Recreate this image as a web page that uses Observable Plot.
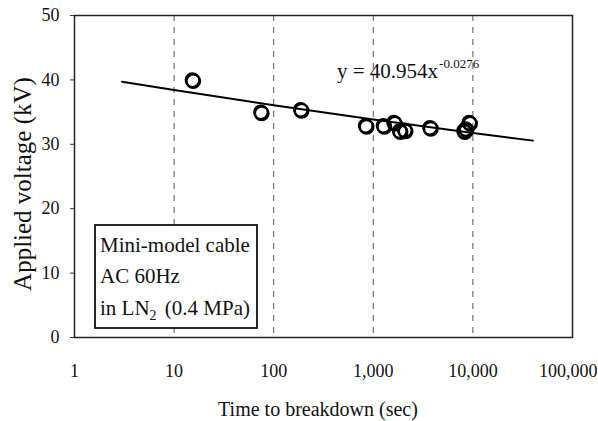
<!DOCTYPE html>
<html>
<head>
<meta charset="utf-8">
<script src="https://cdn.jsdelivr.net/npm/d3@7"></script>
<script src="https://cdn.jsdelivr.net/npm/@observablehq/plot@0.6"></script>
<style>
  html, body { margin: 0; padding: 0; background: #fff; overflow: hidden; }
  #chart { width: 598px; height: 421px; position: relative; }
  svg { font-family: "Liberation Serif", "Times New Roman", serif; }
</style>
</head>
<body>
<div id="chart"></div>
<script>
// Measured breakdown data
const times = [15.2, 74, 186, 835, 1260, 1607, 1830, 2060, 3690, 8100, 8430, 9140];
const voltages = [40.0, 35.0, 35.4, 32.9, 32.9, 33.4, 32.1, 32.2, 32.6, 32.1, 32.4, 33.4];

// Trend line (y = 40.954x^-0.0276) read at a few points
const fitTimes = [3, 10, 100, 1000, 10000, 40000];
const fitVoltages = [39.73, 38.43, 36.07, 33.84, 31.76, 30.57];

// Axes
const xTicks = [1, 10, 100, 1000, 10000, 100000];
const xTickLabels = ["1", "10", "100", "1,000", "10,000", "100,000"];
const xGrid = [10, 100, 1000, 10000];
const yTicks = [0, 10, 20, 30, 40, 50];

const xTitle = "Time to breakdown (sec)";
const yTitle = "Applied voltage (kV)";
const equationMain = "y = 40.954x";
const equationExp = "-0.0276";
const legendLines = ["Mini-model cable", "AC 60Hz"];

const points = times.map((t, i) => ({t, v: voltages[i]}));
const fit = fitTimes.map((t, i) => ({t, v: fitVoltages[i]}));

const W = 598, H = 421;
const mL = 74, mR = 26, mT = 15, mB = 84;

const plot = Plot.plot({
  width: W,
  height: H,
  marginLeft: mL,
  marginRight: mR,
  marginTop: mT,
  marginBottom: mB,
  style: {fontFamily: "Liberation Serif, serif", fontSize: "18px", color: "#111", background: "#fff", overflow: "visible"},
  x: {type: "log", domain: [1, 100000]},
  y: {domain: [0, 50]},
  marks: [
    Plot.ruleX(xGrid, {stroke: "#555", strokeWidth: 1, strokeDasharray: "6,6"}),
    Plot.axisX({ticks: xTicks, tickFormat: (d) => xTickLabels[xTicks.indexOf(d)], tickSize: 0, tickPadding: 27, label: null, fill: "#111"}),
    Plot.axisY({ticks: yTicks, tickSize: 4, tickPadding: 11, label: null, fill: "#111", stroke: "#333"}),
    Plot.frame({stroke: "#222", strokeWidth: 1.5}),
    Plot.line(fit, {x: "t", y: "v", curve: "monotone-x", stroke: "#000", strokeWidth: 2}),
    Plot.dot(points, {x: "t", y: "v", r: 6.8, dx: 1, dy: 1.2, stroke: "#000", strokeWidth: 2.4, fill: "none"}),
    Plot.dot(points, {x: "t", y: "v", r: 6.8, stroke: "#000", strokeWidth: 1.6, fill: "none"})
  ]
});
document.getElementById("chart").appendChild(plot);

const svg = d3.select(plot);

// keep the last x tick label inside the picture
svg.selectAll("text").filter(function() { return this.textContent === xTickLabels[xTickLabels.length - 1]; })
  .attr("text-anchor", "end").attr("dx", 25);

// Axis titles
svg.append("text")
  .attr("x", 318).attr("y", 416)
  .attr("text-anchor", "middle")
  .attr("font-size", 20).attr("fill", "#111")
  .text(xTitle);
svg.append("text")
  .attr("transform", `translate(31,184) rotate(-90)`)
  .attr("text-anchor", "middle")
  .attr("font-size", 25).attr("fill", "#111")
  .text(yTitle);

// Equation
const eq = svg.append("text")
  .attr("x", 337).attr("y", 78)
  .attr("text-anchor", "start")
  .attr("font-size", 21).attr("fill", "#111");
eq.append("tspan").text(equationMain);
eq.append("tspan").attr("font-size", 13).attr("dy", -10).attr("dx", 1).text(equationExp);

// Legend box
const g = svg.append("g").attr("text-anchor", "start");
g.append("rect")
  .attr("x", 95).attr("y", 225).attr("width", 162).attr("height", 103)
  .attr("fill", "#fff").attr("stroke", "#111").attr("stroke-width", 1.8);
g.append("text").attr("x", 100).attr("y", 252).attr("font-size", 21).attr("fill", "#111").text(legendLines[0]);
g.append("text").attr("x", 100).attr("y", 283).attr("font-size", 21).attr("fill", "#111").text(legendLines[1]);
const l3 = g.append("text").attr("x", 100).attr("y", 315).attr("font-size", 21).attr("fill", "#111");
l3.append("tspan").text("in LN");
l3.append("tspan").attr("font-size", 14).attr("dy", 5).text("2");
l3.append("tspan").attr("dy", -5).attr("dx", 3).text("\u00a0(0.4 MPa)");
</script>
</body>
</html>
